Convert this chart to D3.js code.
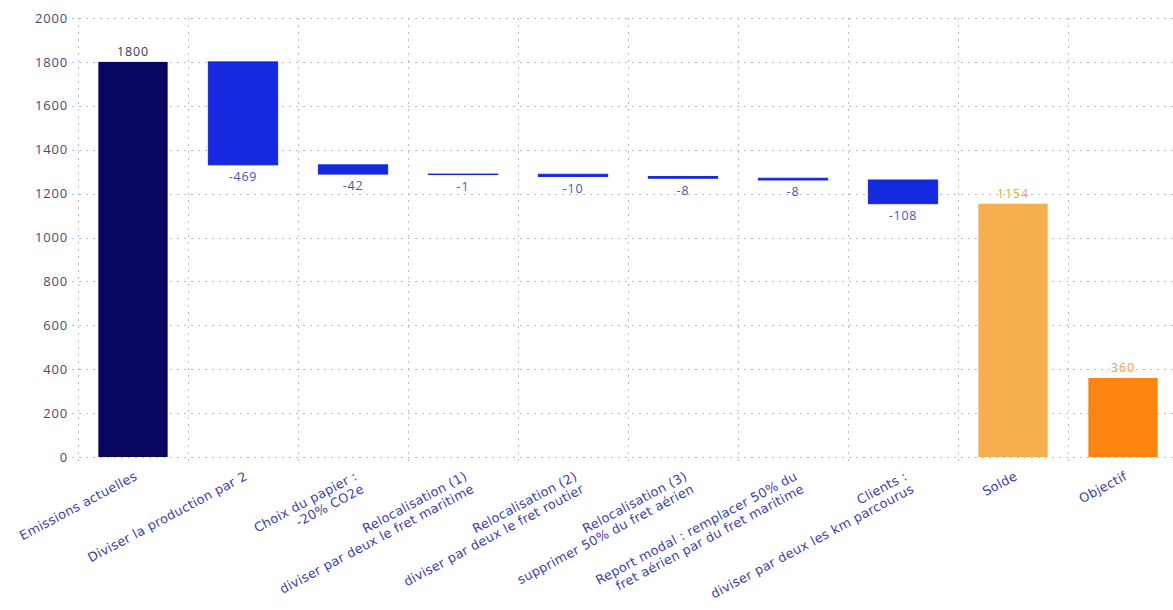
<!DOCTYPE html>
<html>
<head>
<meta charset="utf-8">
<script src="https://cdn.jsdelivr.net/npm/d3@7"></script>
<style>
  html, body { margin: 0; padding: 0; background: #ffffff; overflow: hidden; }
  svg { display: block; font-family: "Open Sans", "Noto Sans", sans-serif; }
</style>
</head>
<body>
<svg id="chart" width="1173" height="610"></svg>
<script>
// Category labels (one entry per line of the label)
const categories = [
  ["Emissions actuelles"],
  ["Diviser la production par 2"],
  ["Choix du papier :", "-20% CO2e"],
  ["Relocalisation (1)", "diviser par deux le fret maritime"],
  ["Relocalisation (2)", "diviser par deux le fret routier"],
  ["Relocalisation (3)", "supprimer 50% du fret aérien"],
  ["Report modal : remplacer 50% du", "fret aérien par du fret maritime"],
  ["Clients :", "diviser par deux les km parcourus"],
  ["Solde"],
  ["Objectif"]
];
// Value shown for each step (totals are absolute, actions are deltas)
const values = [1800, -469, -42, -1, -10, -8, -8, -108, 1154, 360];
// Kind of each bar: starting total, reduction step, remaining balance, target
const kinds = ["start", "delta", "delta", "delta", "delta", "delta", "delta", "delta", "balance", "target"];
const yTicks = [0, 200, 400, 600, 800, 1000, 1200, 1400, 1600, 1800, 2000];

const fills = { start: "#08065e", delta: "#1529df", balance: "#f5af4e", target: "#fc8411" };
const labelColors = { start: "#3b3b55", delta: "#4b56b4", balance: "#f2a548", target: "#f39b45" };

const svg = d3.select("#chart");
const plotLeft = 78, plotRight = 1178, plotTop = 18, plotBottom = 457;

const x = d3.scaleBand()
  .domain(d3.range(categories.length))
  .range([plotLeft, plotRight])
  .paddingInner(0.37)
  .paddingOuter(0.185);
const y = d3.scaleLinear().domain([0, 2000]).range([plotBottom, plotTop]);
const step = x.step();

// Floating bar extents: running total for reduction steps
let running = 0;
const bars = values.map((v, i) => {
  const k = kinds[i];
  let y0, y1;
  if (k === "delta") { y0 = running; y1 = running + v; running = y1; }
  else { y0 = 0; y1 = v; if (k === "start") running = v; }
  return { i, v, k, lo: Math.min(y0, y1), hi: Math.max(y0, y1) };
});

// Grid
const grid = svg.append("g").attr("stroke", "#b9bad2").attr("stroke-width", 1).attr("stroke-dasharray", "2,5");
grid.selectAll("line.h").data(yTicks).join("line")
  .attr("x1", plotLeft - 6).attr("x2", plotRight)
  .attr("y1", d => Math.round(y(d)) + 0.5).attr("y2", d => Math.round(y(d)) + 0.5);
grid.selectAll("line.v").data(d3.range(categories.length + 1)).join("line")
  .attr("x1", i => Math.round(plotLeft + i * step) + 0.5).attr("x2", i => Math.round(plotLeft + i * step) + 0.5)
  .attr("y1", plotTop).attr("y2", plotBottom + 6);

// Y axis labels
const yAxis = svg.append("g").attr("transform", `translate(${plotLeft - 10},0)`)
  .call(d3.axisLeft(y).tickValues(yTicks).tickFormat(d3.format("d")).tickSize(0).tickPadding(0));
yAxis.select(".domain").remove();
yAxis.selectAll("text")
  .attr("fill", "#4a4a6c").attr("font-size", 13).attr("letter-spacing", 0.8)
  .style("font-family", "'Open Sans', sans-serif");

// Bars
svg.append("g").selectAll("rect").data(bars).join("rect")
  .attr("x", d => x(d.i))
  .attr("width", x.bandwidth())
  .attr("y", d => y(d.hi))
  .attr("height", d => Math.max(0.5, y(d.lo) - y(d.hi)))
  .attr("fill", d => fills[d.k])
  .attr("stroke", d => fills[d.k])
  .attr("stroke-width", d => d.k === "delta" ? 1 : 0);

// Value labels: above totals, below the end of each reduction
svg.append("g").selectAll("text").data(bars).join("text")
  .attr("x", d => x(d.i) + x.bandwidth() / 2)
  .attr("y", d => d.k === "delta" ? y(d.lo) + 12 : y(d.hi) - 10)
  .attr("dy", "0.35em")
  .attr("text-anchor", "middle")
  .attr("font-size", 12.5)
  .attr("letter-spacing", 0.8)
  .attr("fill", d => labelColors[d.k])
  .text(d => String(d.v));

// Rotated category labels, right-aligned lines stacked below each other
const xl = svg.append("g").selectAll("g").data(categories).join("g")
  .attr("transform", (d, i) => `translate(${x(i) + x.bandwidth() / 2 + 3},${plotBottom + 18}) rotate(-28)`);
xl.each(function (lines) {
  const g = d3.select(this);
  lines.forEach((t, j) => {
    g.append("text")
      .attr("x", 0)
      .attr("y", j * 14.5)
      .attr("dy", "0.35em")
      .attr("text-anchor", "end")
      .attr("font-size", 12.8)
      .attr("letter-spacing", 0.3)
      .attr("fill", "#3d3da8")
      .style("font-family", "'DejaVu Sans', sans-serif")
      .text(t);
  });
});
</script>
</body>
</html>
